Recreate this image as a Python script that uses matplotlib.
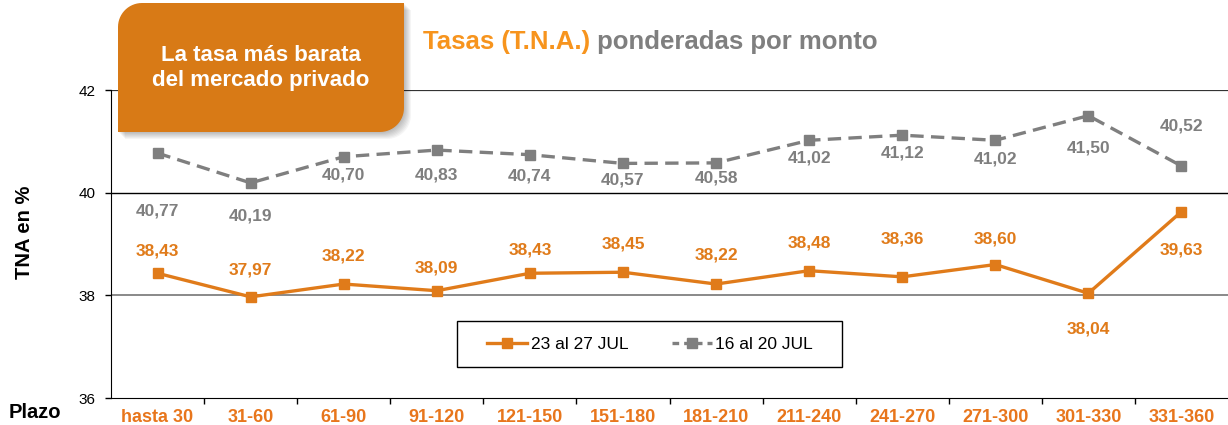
import numpy as np
import matplotlib
matplotlib.use("Agg")
import matplotlib.pyplot as plt
from matplotlib.patches import Polygon, Rectangle
from matplotlib.lines import Line2D

plt.rcParams["font.family"] = ["Liberation Sans", "DejaVu Sans"]

plazos = ["hasta 30", "31-60", "61-90", "91-120", "121-150", "151-180",
          "181-210", "211-240", "241-270", "271-300", "301-330", "331-360"]
tasas_actual = [38.43, 37.97, 38.22, 38.09, 38.43, 38.45,
                38.22, 38.48, 38.36, 38.60, 38.04, 39.63]
tasas_previa = [40.77, 40.19, 40.70, 40.83, 40.74, 40.57,
                40.58, 41.02, 41.12, 41.02, 41.50, 40.52]
serie_actual = "23 al 27 JUL"
serie_previa = "16 al 20 JUL"
y_ticks = [36, 38, 40, 42]

# vertical offsets of the value labels, in pixels (+ = above the point)
off_actual = [22, 27, 28, 23, 23, 28, 29, 28, 38, 26, -36, -38]
off_previa = [-58, -33, -18, -25, -21, -17, -15, -18, -18, -19, -32, 40]

NARANJA = "#E07B1A"
NARANJA_TXT = "#E8761C"
GRIS = "#7F7F7F"
CAJA = "#D87A16"

W, H = 1228, 425
fig = plt.figure(figsize=(W / 100, H / 100), dpi=100)
ax = fig.add_axes([111 / W, 1 - 398 / H, (W - 111) / W, (398 - 90) / H])

x = np.arange(len(plazos))
ax.plot(x, tasas_previa, color=GRIS, lw=2.4, ls=(0, (4, 2.2)),
        marker="s", ms=7, zorder=3)
ax.plot(x, tasas_actual, color=NARANJA, lw=2.4,
        marker="s", ms=7, zorder=3)

def fmt(v):
    return f"{v:.2f}".replace(".", ",")

for xi, v, dy in zip(x, tasas_previa, off_previa):
    ax.annotate(fmt(v), (xi, v), xytext=(0, dy), textcoords="offset pixels",
                ha="center", va="center", color=GRIS, fontsize=12.5,
                fontweight="bold")
for xi, v, dy in zip(x, tasas_actual, off_actual):
    ax.annotate(fmt(v), (xi, v), xytext=(0, dy), textcoords="offset pixels",
                ha="center", va="center", color=NARANJA, fontsize=12.5,
                fontweight="bold")

ax.set_xlim(-0.5, len(plazos) - 0.5)
ax.set_ylim(y_ticks[0], y_ticks[-1])
ax.set_yticks(y_ticks)
ax.set_xticks(x)
ax.set_xticklabels(plazos, color=NARANJA_TXT, fontsize=13, fontweight="bold")
ax.set_xticks(x[:-1] + 0.5, minor=True)
ax.tick_params(axis="x", which="major", length=0, pad=8)
ax.tick_params(axis="x", which="minor", length=4, width=1, direction="out")
ax.tick_params(axis="y", length=4, width=1, direction="out", pad=7, labelsize=11)

ax.axhline(40, color="black", lw=1, zorder=1)
ax.axhline(38, color="#808080", lw=1.3, zorder=1)
ax.axhline(42, color="#333333", lw=1.6, zorder=1)
for s in ["top", "right"]:
    ax.spines[s].set_visible(False)
ax.spines["left"].set_color("black")
ax.spines["bottom"].set_color("black")

# overlay in pixel coordinates for the callout box, title and labels
ov = fig.add_axes([0, 0, 1, 1], zorder=10)
ov.set_xlim(0, W)
ov.set_ylim(H, 0)
ov.axis("off")


def caja_redondeada(x0, y0, x1, y1, r, n=16):
    t1 = np.linspace(np.pi, 1.5 * np.pi, n)
    t2 = np.linspace(0, 0.5 * np.pi, n)
    pts = [(x0, y1)]
    pts += list(zip(x0 + r + r * np.cos(t1), y0 + r + r * np.sin(t1)))
    pts += [(x1, y0)]
    pts += list(zip(x1 - r + r * np.cos(t2), y1 - r + r * np.sin(t2)))
    return np.array(pts)


for i in range(1, 8):
    sombra = caja_redondeada(118 + i, 3 + i, 404 + i, 132 + i, 24)
    ov.add_patch(Polygon(sombra, closed=True, facecolor="black",
                         edgecolor="none", alpha=0.04))
ov.add_patch(Polygon(caja_redondeada(118, 3, 404, 132, 24), closed=True,
                     facecolor=CAJA, edgecolor="none"))
ov.text(261, 68, "La tasa más barata\ndel mercado privado", ha="center",
        va="center", color="white", fontsize=16, fontweight="bold",
        linespacing=1.2)

t1 = ov.text(423, 42, "Tasas (T.N.A.)", ha="left", va="center",
             color="#F7941D", fontsize=18.5, fontweight="bold")
fig.canvas.draw()
bb = t1.get_window_extent()
ov.text(bb.x1, 42, " ponderadas por monto", ha="left", va="center",
        color=GRIS, fontsize=18.5, fontweight="bold")

ov.text(9, 413, "Plazo", ha="left", va="center", color="black",
        fontsize=14.5, fontweight="bold")
ov.text(25, 232, "TNA en %", ha="center", va="center", rotation=90,
        color="black", fontsize=14.5, fontweight="bold")

# legend box
ov.add_patch(Rectangle((457, 321), 385, 46, facecolor="white",
                       edgecolor="black", lw=1))
handles = [
    Line2D([], [], color=NARANJA, lw=2.4, marker="s", ms=7),
    Line2D([], [], color=GRIS, lw=2.4, ls=(0, (2, 1.5)), marker="s", ms=7),
]
leg = fig.legend(handles, [serie_actual, serie_previa], loc="center",
                 bbox_to_anchor=(650 / W, 1 - 344 / H), ncol=2, frameon=False,
                 fontsize=12.5, handlelength=2.3, handletextpad=0.2,
                 columnspacing=2.5, numpoints=1)
leg.set_zorder(20)

fig.savefig("out.png", dpi=100)
